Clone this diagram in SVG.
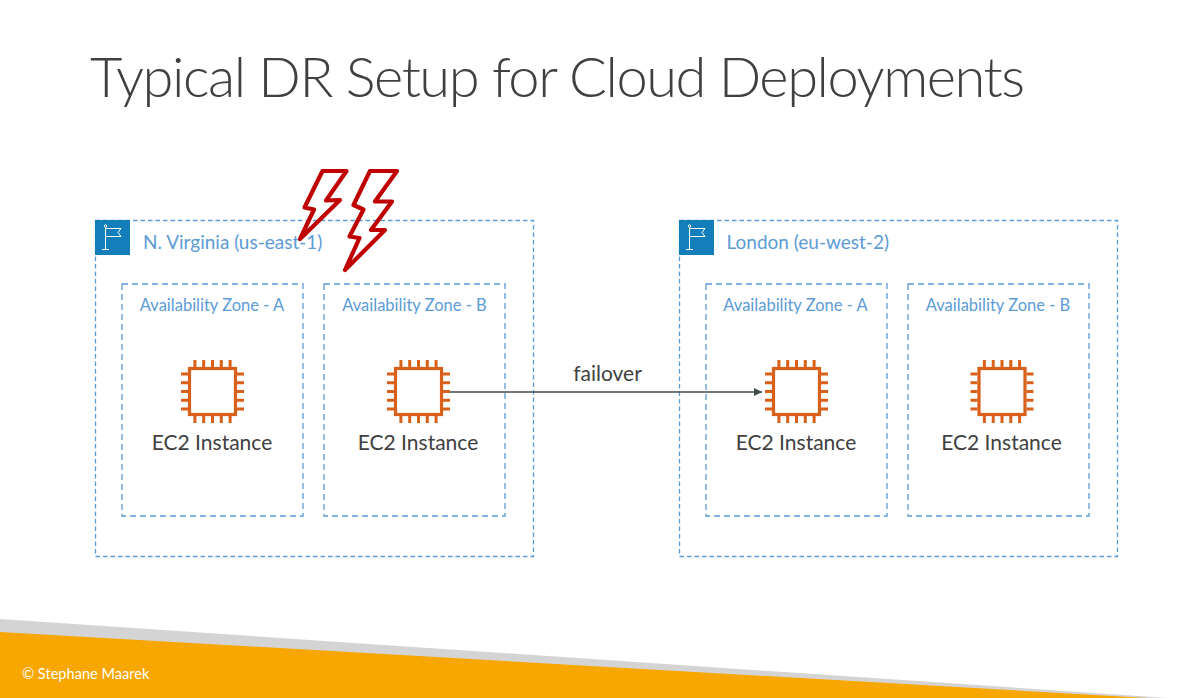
<svg xmlns="http://www.w3.org/2000/svg" xmlns:xlink="http://www.w3.org/1999/xlink" width="1203" height="698" viewBox="0 0 1203 698">
<style>
.region{fill:none;stroke:#5B9BD5;stroke-width:1.3;stroke-dasharray:4.5 3}
.az{fill:none;stroke:#5B9BD5;stroke-width:1.3;stroke-dasharray:6 4}
.lbl{font-family:"Lato","Liberation Sans",sans-serif;fill:#5B9BD5}
.rl{font-size:19px}
.al{font-size:16.500px;text-anchor:middle}
.ec{font-family:"Lato","Liberation Sans",sans-serif;font-size:21px;fill:#404040;text-anchor:middle}
.bolt{fill:#fff;fill-opacity:0;stroke:#C00000;stroke-width:4.200;stroke-linejoin:round}
.chip{fill:#fff;stroke:#D9601A;stroke-width:3.200}
.pin{stroke:#D9601A;stroke-width:3;fill:none}
.flag{fill:none;stroke:#fff;stroke-width:1}
</style>
<defs>
<g id="chipIcon">
<rect class="chip" x="-23" y="-23" width="46" height="46"/>
<path class="pin" d="M-17.600-24.500V-31.500M-8.800-24.500V-31.500M0-24.500V-31.500M8.800-24.500V-31.500M17.600-24.500V-31.500M-17.600 24.500V31.500M-8.800 24.500V31.500M0 24.500V31.500M8.800 24.500V31.500M17.600 24.500V31.500M-24.500-17.600H-31.500M-24.500-8.800H-31.500M-24.500 0H-31.500M-24.500 8.800H-31.500M-24.500 17.600H-31.500M24.500-17.600H31.500M24.500-8.800H31.500M24.500 0H31.500M24.500 8.800H31.500M24.500 17.600H31.500"/>
</g>
<g id="flagIcon">
<rect width="35" height="35" fill="#147EBA"/>
<path class="flag" d="M10.500 7V29.500M7 29.500H14M10.500 8.500H26L23 12.500L26 16.500H10.500"/>
<circle class="flag" cx="10.500" cy="6" r="1.200"/>
</g>
<marker id="arrow" markerUnits="userSpaceOnUse" markerWidth="10" markerHeight="10" refX="8" refY="4" orient="auto"><path d="M0 0L8 4L0 8Z" fill="#404A4A"/></marker>
</defs>
<rect width="1203" height="698" fill="#fff"/>
<polygon id="footer-grey" points="0,619 1168,698 0,698" fill="#D4D4D4"/>
<polygon id="footer-orange" points="0,632 1147,698 0,698" fill="#F8A600"/>
<text x="22" y="679" font-family="Lato,'Liberation Sans',sans-serif" font-size="14.600" fill="#fff">© Stephane Maarek</text>
<text x="90" y="97" font-family="Lato,'Liberation Sans',sans-serif" font-weight="300" font-size="56" letter-spacing="-1.450" fill="#404040">Typical DR Setup for Cloud Deployments</text>

<g id="region-virginia">
<rect class="region" x="95.500" y="220.500" width="438" height="336"/>
<use xlink:href="#flagIcon" x="95" y="220"/>
<text class="lbl rl" x="143" y="249">N. Virginia (us-east-1)</text>
</g>
<g id="az-va-a"><rect class="az" x="122" y="284" width="181" height="232"/><text class="lbl al" x="212" y="310.500">Availability Zone - A</text></g>
<g id="az-va-b"><rect class="az" x="324" y="284" width="181" height="232"/><text class="lbl al" x="414.500" y="310.500">Availability Zone - B</text></g>
<g id="region-london">
<rect class="region" x="679.500" y="220.500" width="438" height="336"/>
<use xlink:href="#flagIcon" x="679" y="220"/>
<text class="lbl rl" x="726.500" y="249">London (eu-west-2)</text>
</g>
<g id="az-lon-a"><rect class="az" x="706" y="284" width="181" height="232"/><text class="lbl al" x="795.500" y="310.500">Availability Zone - A</text></g>
<g id="az-lon-b"><rect class="az" x="908" y="284" width="181" height="232"/><text class="lbl al" x="998" y="310.500">Availability Zone - B</text></g>

<g id="connectors">
<line x1="450" y1="392" x2="762" y2="392" stroke="#404A4A" stroke-width="1.300" marker-end="url(#arrow)"/>
<text x="607.500" y="380.500" font-family="Lato,'Liberation Sans',sans-serif" font-size="21px" fill="#404040" text-anchor="middle">failover</text>
</g>

<g id="ec2-va-a"><use xlink:href="#chipIcon" x="212.500" y="391.500"/><text class="ec" x="212" y="450">EC2 Instance</text></g>
<g id="ec2-va-b"><use xlink:href="#chipIcon" x="418.500" y="391.500"/><text class="ec" x="418" y="450">EC2 Instance</text></g>
<g id="ec2-lon-a"><use xlink:href="#chipIcon" x="796.500" y="391.500"/><text class="ec" x="796" y="450">EC2 Instance</text></g>
<g id="ec2-lon-b"><use xlink:href="#chipIcon" x="1002" y="391.500"/><text class="ec" x="1001.500" y="450">EC2 Instance</text></g>

<g id="bolt-1"><polygon class="bolt" points="322.500,171 346.500,171 326,200.500 340,200 300,239 314,209.500 304.500,207.500"/></g>
<g id="bolt-2"><polygon class="bolt" points="370,171 397,171 375,201.500 392,201.500 371,230 385,230 345,270 359.500,238 349.500,236.500 363.500,209.500 353.500,205"/></g>
</svg>
